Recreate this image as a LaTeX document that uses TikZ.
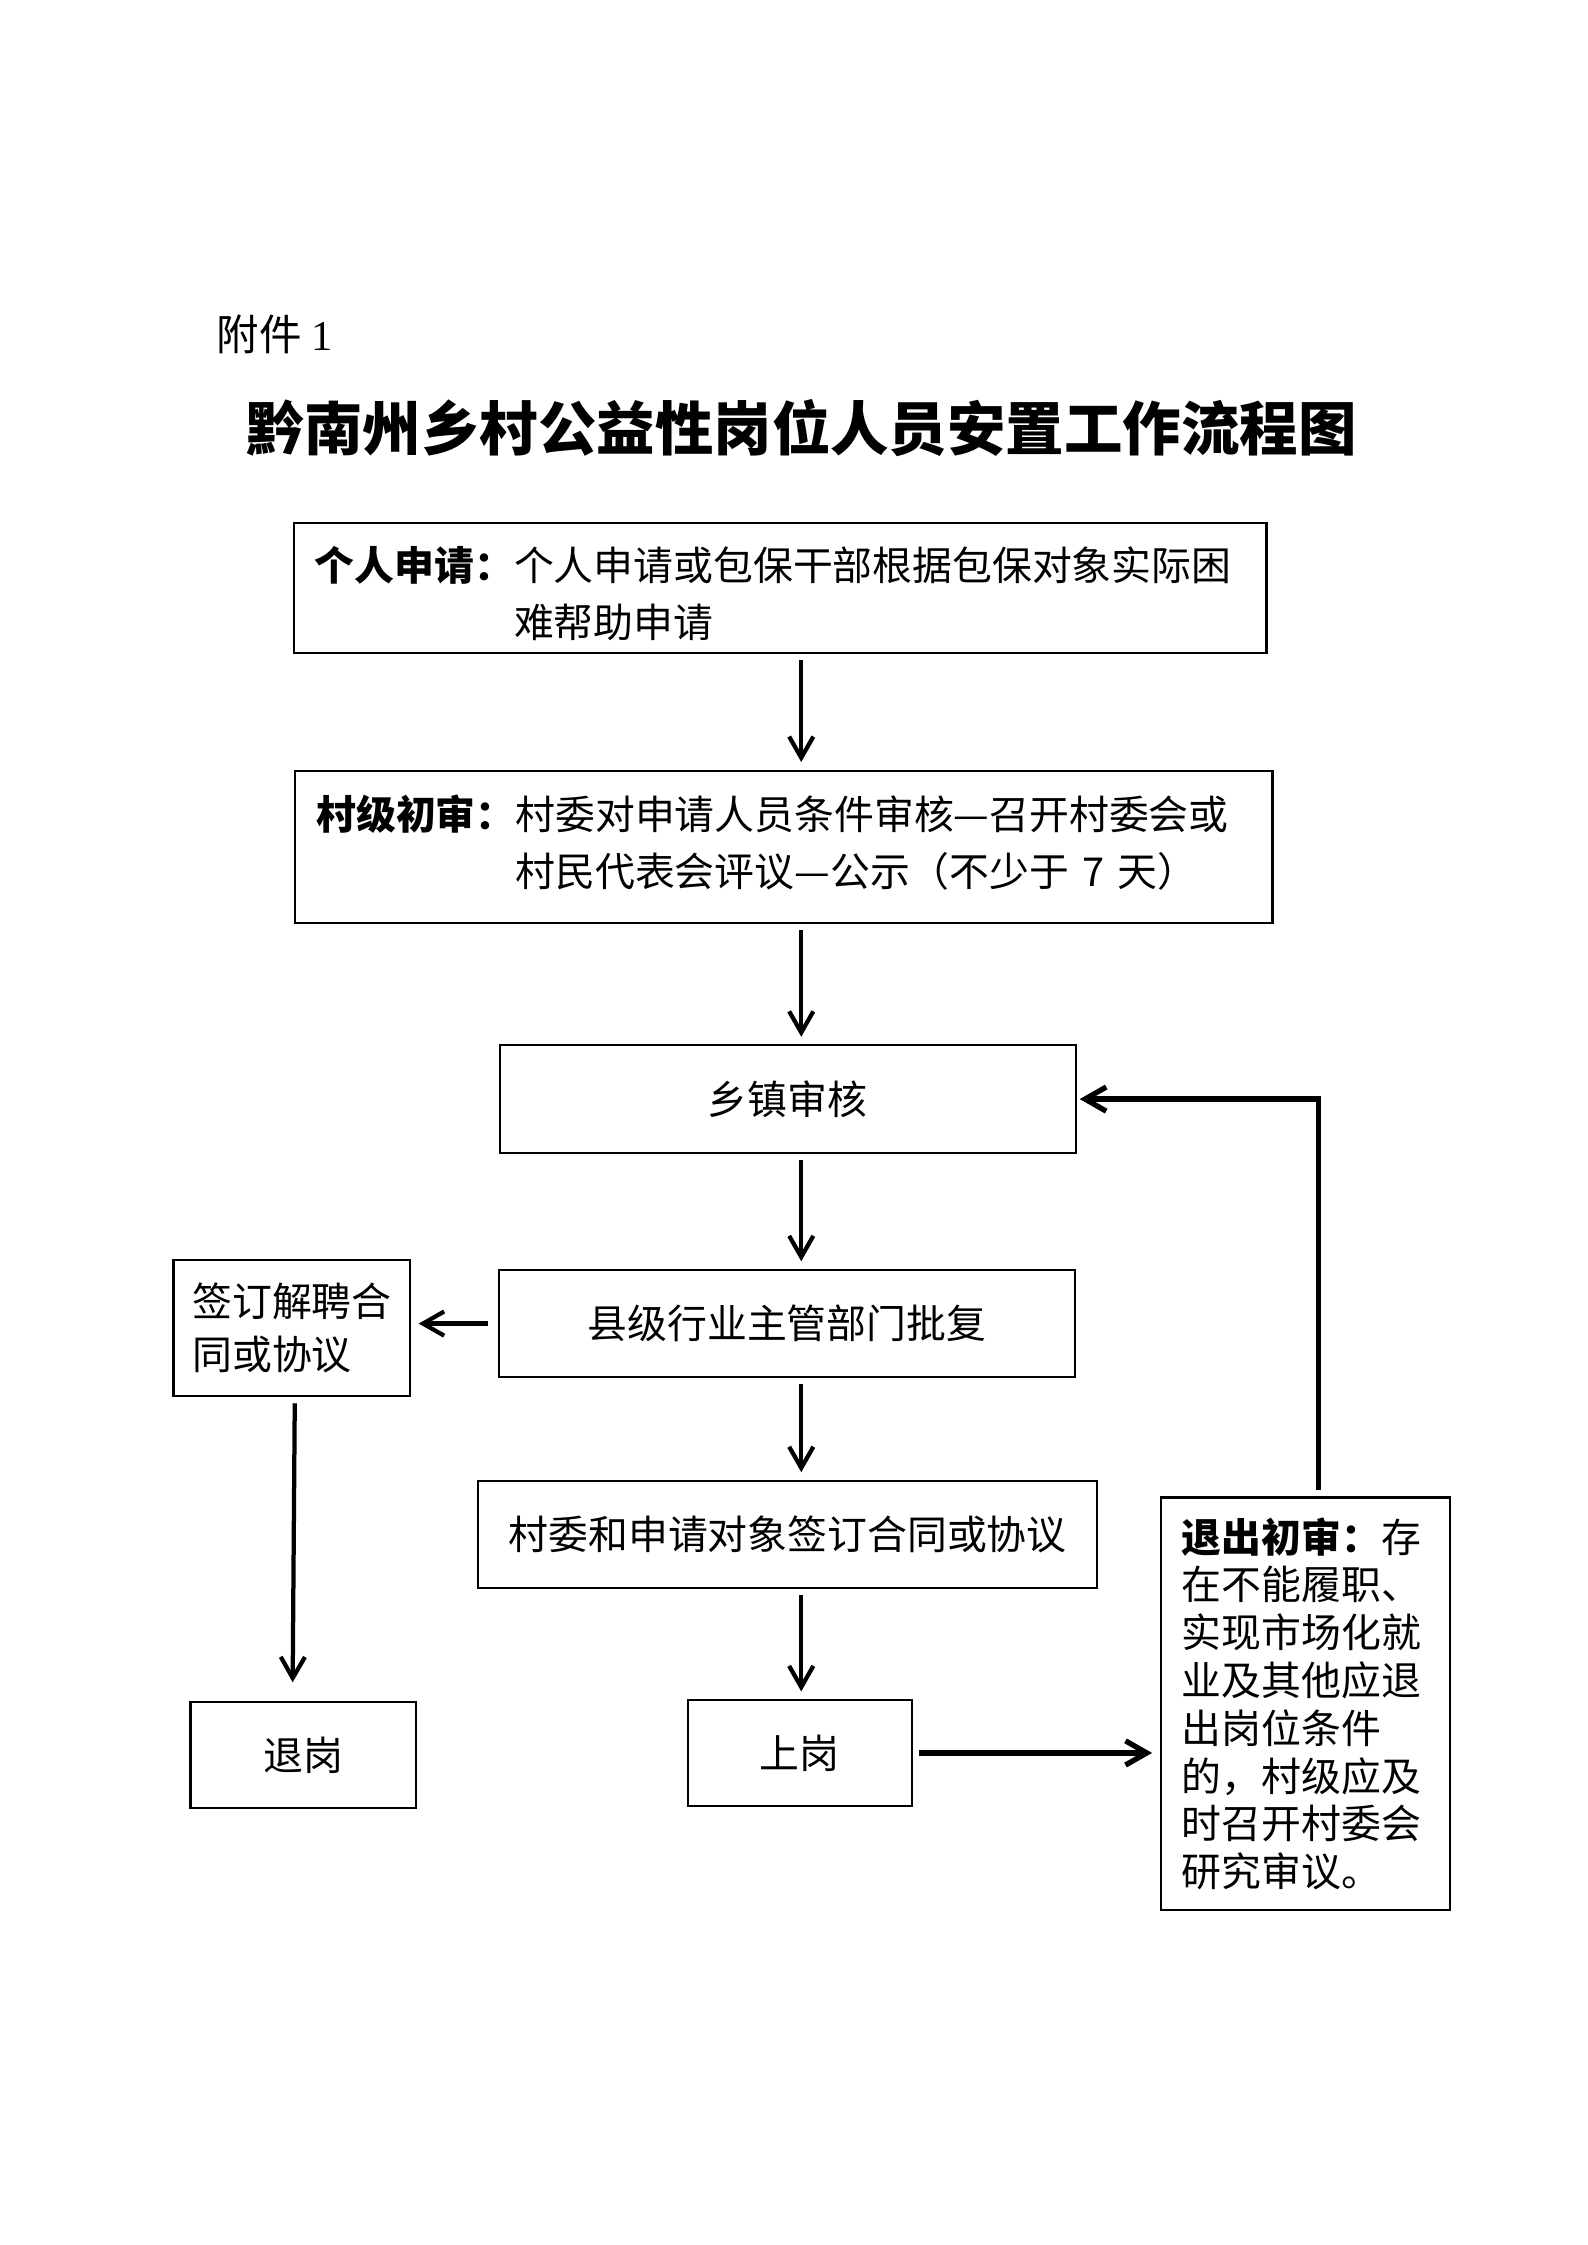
\documentclass[tikz,border=0pt]{standalone}
\usepackage{fontspec}
\setmainfont{Noto Sans CJK SC}
\newfontfamily\latinserif{Liberation Serif}
\usetikzlibrary{positioning,calc,arrows.meta}
\tikzset{>={Straight Barb[length=2.8mm,width=3.2mm]},
bx/.style={rectangle,draw,line width=0.8pt,inner sep=0pt,font=\fontsize{15}{21.5}\selectfont},
txt/.style={align=left,inner xsep=0.28cm},
ar/.style={->,line width=1.6pt,shorten <=0.08cm,shorten >=0.1cm},
ark/.style={ar,line width=2pt},
}
\begin{document}
\begin{tikzpicture}
\useasboundingbox (0,0) rectangle (21,-29.7);

\node[anchor=west,inner sep=0pt,font=\fontsize{16}{16}\selectfont] (annex) at (2.86,-4.43) {附件 {\latinserif 1}};
\node[font=\fontsize{22}{22}\selectfont\bfseries] (title) at (10.60,-5.66) {黔南州乡村公益性岗位人员安置工作流程图};

\node[bx,txt,text width=12.31cm,minimum height=1.72cm] (apply) at (10.32,-7.78)
	{\raisebox{-0.12cm}[\height][\depth]{\begin{tabular}{@{}l@{}l@{}}\textbf{个人申请：}&个人申请或包保干部根据包保对象实际困\\&难帮助申请\end{tabular}}};
\node[bx,txt,text width=12.37cm,minimum height=2.01cm] (village) at (10.37,-11.20)
	{\begin{tabular}{@{}l@{}l@{}}\textbf{村级初审：}&村委对申请人员条件审核—召开村委会或\\&村民代表会评议—公示（不少于 7 天）\end{tabular}};
\node[bx,minimum width=7.62cm,minimum height=1.42cm] (town) at (10.42,-14.54) {乡镇审核};
\node[bx,minimum width=7.62cm,minimum height=1.42cm] (county) at (10.41,-17.51) {县级行业主管部门批复};
\node[bx,txt,text width=2.63cm,inner xsep=0.25cm,minimum height=1.80cm,
	font=\fontsize{15}{20}\selectfont] (dismiss) at (3.86,-17.57) {签订解聘合\\同或协议};
\node[bx,minimum width=8.19cm,minimum height=1.42cm] (sign) at (10.42,-20.30) {村委和申请对象签订合同或协议};
\node[bx,minimum width=2.98cm,minimum height=1.40cm] (leave) at (4.01,-23.22) {退岗};
\node[bx,minimum width=2.96cm,minimum height=1.40cm] (onduty) at (10.58,-23.19) {上岗};
\node[bx,txt,text width=3.27cm,minimum height=5.46cm,font=\fontsize{15}{18}\selectfont] (exit) at (17.27,-22.54)
	{\textbf{退出初审：}存\\在不能履职、\\实现市场化就\\业及其他应退\\出岗位条件\\的，村级应及\\时召开村委会\\研究审议。};

\coordinate (spine) at (10.6,0);
\draw[ar] (apply.south -| spine) -- (village.north -| spine);
\draw[ar] (village.south -| spine) -- (town.north -| spine);
\draw[ar] (town.south -| spine) -- (county.north -| spine);
\draw[ar] (county.south -| spine) -- (sign.north -| spine);
\draw[ar] (sign.south -| spine) -- (onduty.north -| spine);
\draw[ar,shorten <=0.13cm] (county.west) -- (county.west -| dismiss.east);
\draw[ar,shorten >=0.25cm] ([xshift=0.04cm]dismiss.south) -- ([xshift=-0.14cm]leave.north);
\draw[ark] (onduty.east) -- (onduty.east -| exit.west);
\draw[ark,shorten >=0.04cm] ([xshift=0.17cm]exit.north) |- (town.east);
\end{tikzpicture}
\end{document}
